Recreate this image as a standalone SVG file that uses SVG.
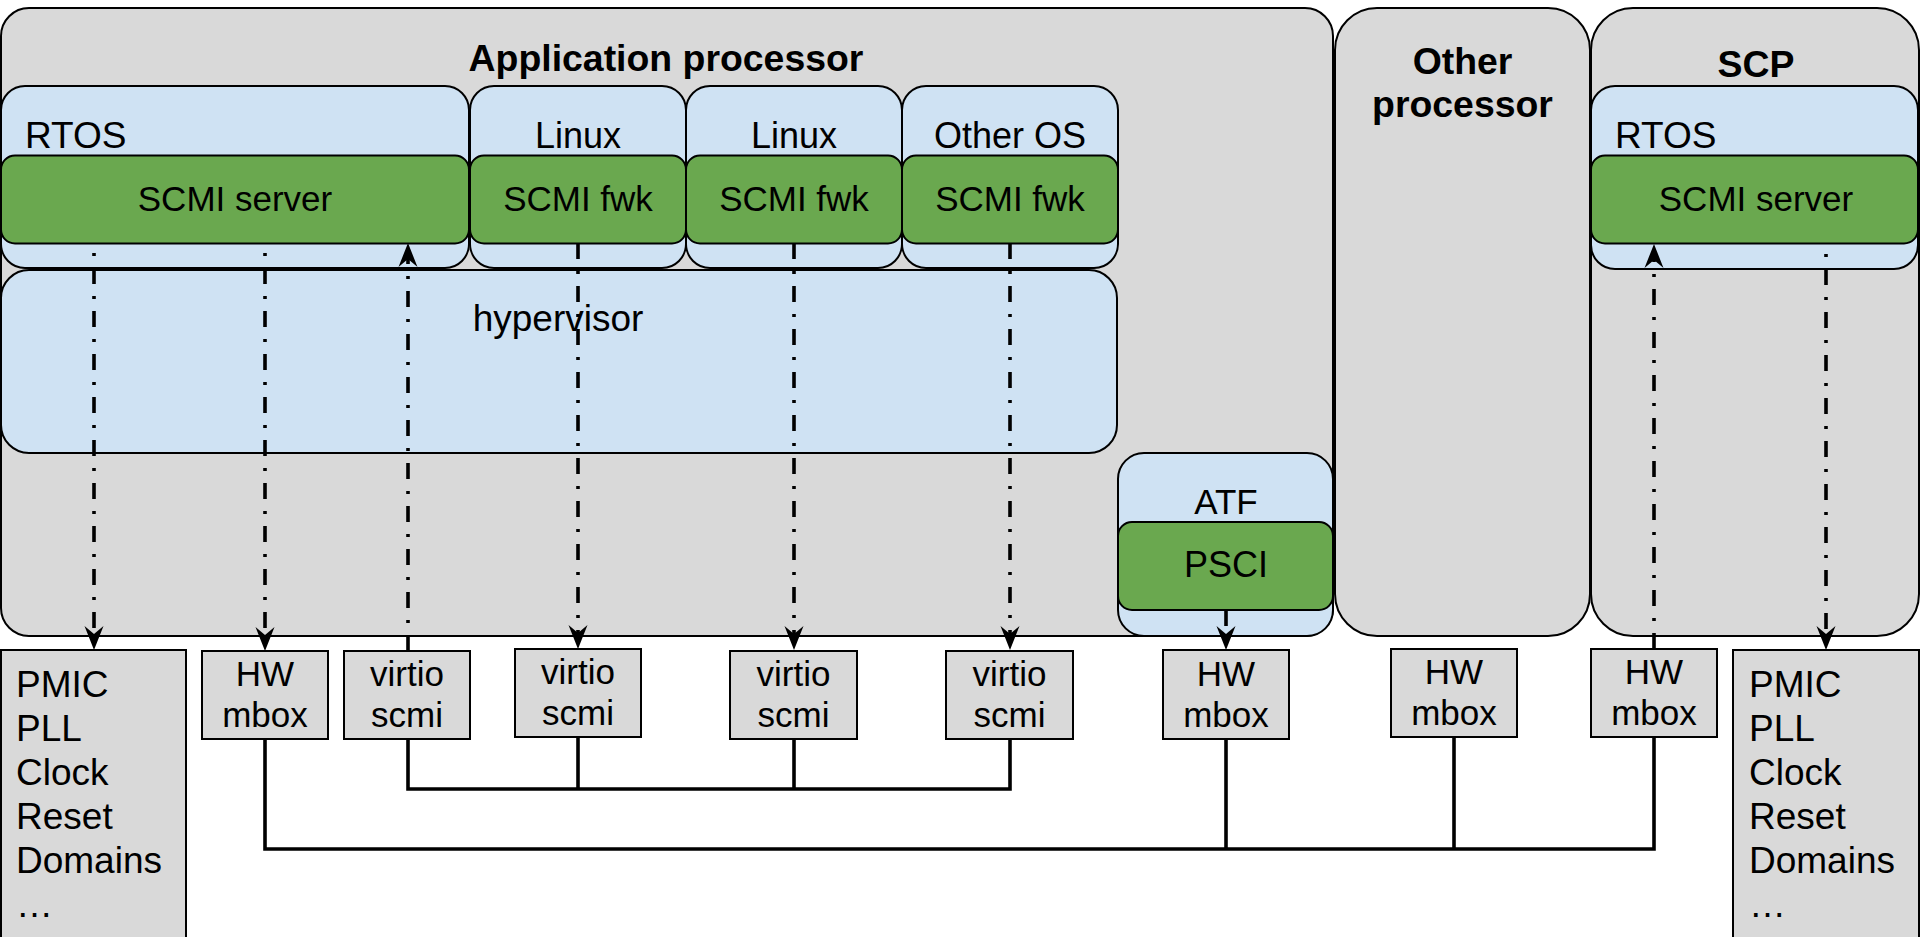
<svg xmlns="http://www.w3.org/2000/svg" width="1920" height="937" viewBox="0 0 1920 937">
<style>
text{font-family:"Liberation Sans",Arial,Helvetica,sans-serif;fill:#000}
.t{font-size:36px;text-anchor:middle}
.h{font-size:37px;text-anchor:middle}
.b{font-size:37.4px;font-weight:bold;text-anchor:middle}
.g{font-size:35px;text-anchor:middle}
.s{font-size:35px;text-anchor:middle}
.l{font-size:37px}
.proc{fill:#d9d9d9;stroke:#000;stroke-width:2}
.os{fill:#cfe2f3;stroke:#000;stroke-width:2}
.grn{fill:#6aa84f;stroke:#000;stroke-width:2}
.box{fill:#d9d9d9;stroke:#000;stroke-width:2}
.dd{fill:none;stroke:#000;stroke-width:3.6;stroke-dasharray:16 12 3 12;marker-end:url(#ah)}
.bus{fill:none;stroke:#000;stroke-width:3.6}
</style>
<defs>
<marker id="ah" markerUnits="userSpaceOnUse" viewBox="-11 -10 26 20" refX="0" refY="0" markerWidth="26" markerHeight="20" orient="auto">
<path d="M14,0 L-10,-9.5 L-2,0 L-10,9.5 Z" fill="#000"/>
</marker>
</defs>
<rect width="1920" height="937" fill="#fff"/>

<g id="app-processor">
<rect class="proc" x="1" y="8" width="1332" height="628" rx="28"/>
<text class="b" x="666" y="70.5">Application processor</text>
</g>
<g id="other-processor">
<rect class="proc" x="1335" y="8" width="255" height="628" rx="42"/>
<text class="b" x="1462.5" y="74">Other</text>
<text class="b" x="1462.5" y="117">processor</text>
</g>
<g id="scp">
<rect class="proc" x="1591" y="8" width="328" height="628" rx="42"/>
<text class="b" x="1756" y="77">SCP</text>
</g>

<g id="rtos-app">
<rect class="os" x="1" y="86" width="468" height="182" rx="24"/>
<text class="l" x="25" y="148">RTOS</text>
</g>
<g id="scmi-server-app">
<rect class="grn" x="1" y="155.5" width="468" height="88" rx="14"/>
<text class="g" x="235" y="211">SCMI server</text>
</g>
<g id="linux1">
<rect class="os" x="470" y="86" width="216" height="182" rx="24"/>
<text class="t" x="578" y="148">Linux</text>
</g>
<g id="scmi-fwk1">
<rect class="grn" x="470" y="155.5" width="216" height="88" rx="14"/>
<text class="g" x="578" y="211">SCMI fwk</text>
</g>
<g id="linux2">
<rect class="os" x="686" y="86" width="216" height="182" rx="24"/>
<text class="t" x="794" y="148">Linux</text>
</g>
<g id="scmi-fwk2">
<rect class="grn" x="686" y="155.5" width="216" height="88" rx="14"/>
<text class="g" x="794" y="211">SCMI fwk</text>
</g>
<g id="other-os">
<rect class="os" x="902" y="86" width="216" height="182" rx="24"/>
<text class="t" x="1010" y="148">Other OS</text>
</g>
<g id="scmi-fwk3">
<rect class="grn" x="902" y="155.5" width="216" height="88" rx="14"/>
<text class="g" x="1010" y="211">SCMI fwk</text>
</g>

<g id="hypervisor">
<rect class="os" x="1" y="270" width="1116" height="183" rx="28"/>
<text class="h" x="558" y="331">hypervisor</text>
</g>

<g id="atf">
<rect class="os" x="1118" y="453" width="215" height="183" rx="26"/>
<text class="s" x="1226" y="514">ATF</text>
</g>
<g id="psci">
<rect class="grn" x="1118" y="522" width="215" height="88" rx="14"/>
<text class="t" x="1226" y="577">PSCI</text>
</g>

<g id="rtos-scp">
<rect class="os" x="1591" y="86" width="327" height="183" rx="24"/>
<text class="l" x="1615" y="148">RTOS</text>
</g>
<g id="scmi-server-scp">
<rect class="grn" x="1591" y="155.5" width="327" height="88" rx="14"/>
<text class="g" x="1756" y="211">SCMI server</text>
</g>

<g id="resources-app">
<rect class="box" x="1" y="650" width="185" height="300"/>
<text class="l" x="16" y="697">PMIC</text>
<text class="l" x="16" y="741">PLL</text>
<text class="l" x="16" y="785">Clock</text>
<text class="l" x="16" y="829">Reset</text>
<text class="l" x="16" y="873">Domains</text>
<text class="l" x="16" y="917">…</text>
</g>
<g id="hw-mbox1">
<rect class="box" x="202" y="651" width="126" height="88"/>
<text class="s" x="265" y="686">HW</text>
<text class="s" x="265" y="727">mbox</text>
</g>
<g id="virtio1">
<rect class="box" x="344" y="651" width="126" height="88"/>
<text class="s" x="407" y="686">virtio</text>
<text class="s" x="407" y="727">scmi</text>
</g>
<g id="virtio2">
<rect class="box" x="515" y="649" width="126" height="88"/>
<text class="s" x="578" y="684">virtio</text>
<text class="s" x="578" y="725">scmi</text>
</g>
<g id="virtio3">
<rect class="box" x="730" y="651" width="127" height="88"/>
<text class="s" x="793.5" y="686">virtio</text>
<text class="s" x="793.5" y="727">scmi</text>
</g>
<g id="virtio4">
<rect class="box" x="946" y="651" width="127" height="88"/>
<text class="s" x="1009.5" y="686">virtio</text>
<text class="s" x="1009.5" y="727">scmi</text>
</g>
<g id="hw-mbox-atf">
<rect class="box" x="1163" y="650" width="126" height="89"/>
<text class="s" x="1226" y="686">HW</text>
<text class="s" x="1226" y="727">mbox</text>
</g>
<g id="hw-mbox-other">
<rect class="box" x="1391" y="649" width="126" height="88"/>
<text class="s" x="1454" y="684">HW</text>
<text class="s" x="1454" y="725">mbox</text>
</g>
<g id="hw-mbox-scp">
<rect class="box" x="1591" y="649" width="126" height="88"/>
<text class="s" x="1654" y="684">HW</text>
<text class="s" x="1654" y="725">mbox</text>
</g>
<g id="resources-scp">
<rect class="box" x="1733" y="650" width="186" height="300"/>
<text class="l" x="1749" y="697">PMIC</text>
<text class="l" x="1749" y="741">PLL</text>
<text class="l" x="1749" y="785">Clock</text>
<text class="l" x="1749" y="829">Reset</text>
<text class="l" x="1749" y="873">Domains</text>
<text class="l" x="1749" y="917">…</text>
</g>

<g id="connectors">
<path class="dd" d="M94,243 V636" style="stroke-dashoffset:18"/>
<path class="dd" d="M265,243 V637" style="stroke-dashoffset:18"/>
<path class="dd" d="M408,651 V257"/>
<path class="dd" d="M578,243 V635"/>
<path class="dd" d="M794,243 V636"/>
<path class="dd" d="M1010,243 V636"/>
<path class="dd" d="M1226,610 V636"/>
<path class="dd" d="M1654,649 V258"/>
<path class="dd" d="M1826,244 V636" style="stroke-dashoffset:18"/>
<path class="bus" d="M408,739 V789 H1010 V739"/>
<path class="bus" d="M578,737 V789"/>
<path class="bus" d="M794,739 V789"/>
<path class="bus" d="M265,739 V849 H1654 V737"/>
<path class="bus" d="M1226,739 V849"/>
<path class="bus" d="M1454,737 V849"/>
</g>
</svg>
